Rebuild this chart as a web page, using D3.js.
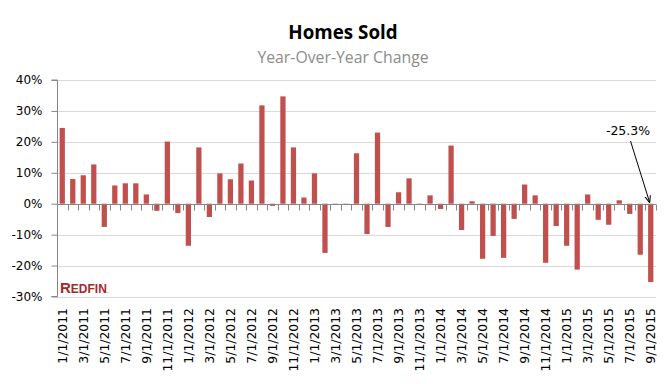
<!DOCTYPE html>
<html><head><meta charset="utf-8">
<script src="https://cdn.jsdelivr.net/npm/d3@7"></script>
<style>body{margin:0;background:#fff}svg{display:block}</style>
</head><body><svg id="c" width="672" height="384"></svg>
<script>
const months = [];
const years = [2011, 2012, 2013, 2014, 2015];
years.forEach(y => { for (let m = 1; m <= 12; m++) { if (y === 2015 && m > 9) break; months.push(m + "/1/" + y); } });
const values = [
  24.5, 8.0, 9.2, 12.7, -7.5, 5.9, 6.6, 6.6, 3.0, -2.3, 20.1, -3.0,
  -13.6, 18.2, -4.3, 9.8, 7.9, 13.0, 7.5, 31.8, -0.7, 34.7, 18.2, 2.0,
  9.8, -15.9, -0.4, -0.4, 16.3, -9.8, 23.0, -7.5, 3.7, 8.2, -0.4, 2.7,
  -1.7, 18.8, -8.5, 0.8, -17.8, -10.4, -17.5, -4.9, 6.2, 2.7, -19.1, -7.2,
  -13.6, -21.3, 3.0, -5.2, -6.8, 1.1, -3.3, -16.5, -25.3
];
const yTicks = [-30, -20, -10, 0, 10, 20, 30, 40];
const title = "Homes Sold";
const subtitle = "Year-Over-Year Change";
const annotation = "-25.3%";

const svg = d3.select("#c");
const L = 57, R = 656, T = 80, B = 296.5;
const x = d3.scaleBand().domain(months).range([L, R]).paddingInner(0.5).paddingOuter(0.25);
const y = d3.scaleLinear().domain([-30, 40]).range([B, T]);

svg.append("text").attr("x", 343).attr("y", 39).attr("text-anchor", "middle")
  .attr("font-family", "Open Sans").attr("font-weight", "bold").attr("font-size", 18.8).attr("fill", "#000").text(title);
svg.append("text").attr("x", 343).attr("y", 63).attr("text-anchor", "middle")
  .attr("font-family", "Open Sans").attr("font-size", 15.8).attr("fill", "#8c8c8c").text(subtitle);

// gridlines
svg.append("g").selectAll("line").data(yTicks.filter(d => d !== 0)).join("line")
  .attr("x1", L).attr("x2", R).attr("y1", d => Math.round(y(d)) + 0.5).attr("y2", d => Math.round(y(d)) + 0.5)
  .attr("stroke", "#d9d9d9").attr("stroke-width", 1);

// y axis
const yAxis = d3.axisLeft(y).tickValues(yTicks).tickFormat(d => d + "%").tickSize(6).tickPadding(9);
const gy = svg.append("g").attr("transform", `translate(${L + 0.5},0)`).call(yAxis);
gy.select(".domain").attr("stroke", "#868686").attr("d", `M-6,${y(40)}H0V${y(-30)}H-6`);
gy.selectAll(".tick line").attr("stroke", "#868686");
gy.selectAll(".tick text").attr("font-family", "DejaVu Sans").attr("font-size", 12).attr("fill", "#000");

// bars
svg.append("g").selectAll("rect").data(values).join("rect")
  .attr("x", (d, i) => x(months[i]))
  .attr("width", x.bandwidth())
  .attr("y", d => y(Math.max(0, d)))
  .attr("height", d => Math.abs(y(d) - y(0)))
  .attr("fill", "#c0504d");

// zero axis with ticks at band boundaries
const y0 = Math.round(y(0)) + 0.5;
svg.append("line").attr("x1", L).attr("x2", R).attr("y1", y0).attr("y2", y0).attr("stroke", "#868686");
const step = x.step();
const bounds = months.map((m, i) => x(m) - (step - x.bandwidth()) / 2).concat([R]);
svg.append("g").selectAll("line").data(bounds.slice(1)).join("line")
  .attr("x1", d => Math.round(d) + 0.5).attr("x2", d => Math.round(d) + 0.5)
  .attr("y1", y0).attr("y2", y0 + 6).attr("stroke", "#868686");

// x labels
svg.append("g").selectAll("text").data(months.filter((m, i) => i % 2 === 0)).join("text")
  .attr("transform", d => `translate(${x(d) + x.bandwidth() / 2 + 4.5},308) rotate(-90)`)
  .attr("text-anchor", "end")
  .attr("font-family", "DejaVu Sans").attr("font-size", 12.4).attr("fill", "#000").text(d => d);

// Redfin logo
const logo = svg.append("text").attr("x", 60).attr("y", 293).attr("font-family", "Liberation Sans")
  .attr("font-weight", "bold").attr("fill", "#a32a2b");
logo.append("tspan").attr("font-size", 15).text("R");
logo.append("tspan").attr("font-size", 12).text("EDFIN");
logo.append("tspan").attr("font-size", 8).attr("font-weight", "normal").text(".");

// annotation
svg.append("defs").append("marker").attr("id", "ah").attr("viewBox", "0 0 10 10").attr("refX", 10).attr("refY", 5)
  .attr("markerWidth", 7).attr("markerHeight", 7).attr("orient", "auto")
  .append("path").attr("d", "M0,1 L10,5 L0,9").attr("fill", "none").attr("stroke", "#000").attr("stroke-width", 1.5);
const last = months[months.length - 1];
svg.append("text").attr("x", 628).attr("y", 135).attr("text-anchor", "middle")
  .attr("font-family", "DejaVu Sans").attr("font-size", 12.5).attr("fill", "#000").text(annotation);
svg.append("line").attr("x1", 630.5).attr("y1", 141).attr("x2", x(last) + x.bandwidth() / 2 - 1).attr("y2", y(0) - 1)
  .attr("stroke", "#000").attr("stroke-width", 1).attr("marker-end", "url(#ah)");
</script></body></html>
